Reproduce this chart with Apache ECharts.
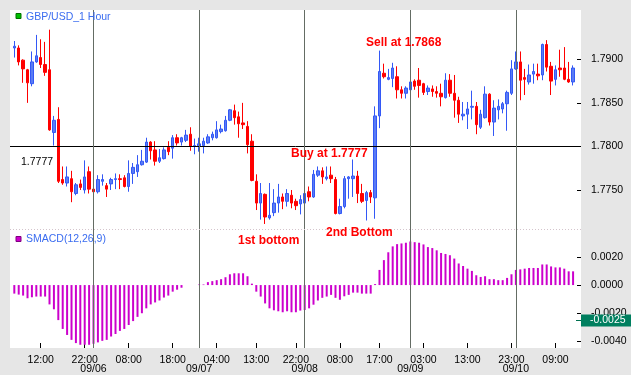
<!DOCTYPE html>
<html><head><meta charset="utf-8">
<script src="https://cdn.jsdelivr.net/npm/echarts@6/dist/echarts.min.js"></script>
<style>html,body{margin:0;padding:0;background:#e6e6e6}#c{width:631px;height:375px}</style>
</head><body><div id="c"></div>
<script>
// GBP/USD 1-hour candles, 09/05 06:00 -> 09/10 13:00 (index = hours since first bar)
const openP = [1.7913,1.7913,1.7899,1.7888,1.7872,1.7897,1.7902,1.7894,1.7888,1.7816,
1.7831,1.7762,1.7758,1.7763,1.7746,1.7757,1.7750,1.7771,1.7751,1.7748,
1.7760,1.7755,1.7757,1.7762,1.7763,1.7764,1.7754,1.7769,1.7771,1.7779,
1.7782,1.7805,1.7796,1.7783,1.7786,1.7799,1.7798,1.7810,1.7805,1.7807,
1.7814,1.7800,1.7800,1.7801,1.7804,1.7810,1.7810,1.7817,1.7818,1.7830,
1.7841,1.7834,1.7827,1.7823,1.7806,1.7760,1.7735,1.7745,1.7718,1.7724,
1.7735,1.7742,1.7737,1.7744,1.7737,1.7734,1.7735,1.7748,1.7742,1.7767,
1.7772,1.7763,1.7767,1.7762,1.7723,1.7731,1.7763,1.7763,1.7766,1.7746,
1.7738,1.7747,1.7741,1.7835,1.7884,1.7877,1.7878,1.7880,1.7865,1.7861,
1.7865,1.7875,1.7876,1.7872,1.7863,1.7866,1.7863,1.7861,1.7856,1.7876,
1.7861,1.7853,1.7835,1.7837,1.7845,1.7846,1.7822,1.7833,1.7860,1.7828,
1.7842,1.7843,1.7849,1.7861,1.7889,1.7897,1.7879,1.7874,1.7883,1.7883,
1.7882,1.7917,1.7892,1.7877,1.7890,1.7890,1.7877,1.7874];
const highP = [1.7921,1.7916,1.7900,1.7889,1.7909,1.7928,1.7923,1.7920,1.7934,1.7835,
1.7845,1.7777,1.7777,1.7772,1.7758,1.7762,1.7784,1.7777,1.7756,1.7767,
1.7768,1.7758,1.7764,1.7769,1.7768,1.7767,1.7784,1.7781,1.7790,1.7796,
1.7810,1.7806,1.7806,1.7797,1.7799,1.7806,1.7813,1.7814,1.7811,1.7819,
1.7822,1.7809,1.7810,1.7810,1.7814,1.7817,1.7829,1.7825,1.7835,1.7843,
1.7848,1.7840,1.7850,1.7829,1.7814,1.7768,1.7758,1.7746,1.7758,1.7751,
1.7757,1.7746,1.7751,1.7750,1.7740,1.7744,1.7757,1.7754,1.7773,1.7777,
1.7776,1.7777,1.7777,1.7765,1.7740,1.7766,1.7766,1.7785,1.7772,1.7757,
1.7749,1.7750,1.7846,1.7910,1.7895,1.7889,1.7896,1.7892,1.7869,1.7869,
1.7886,1.7877,1.7890,1.7873,1.7870,1.7870,1.7869,1.7872,1.7884,1.7883,
1.7882,1.7857,1.7851,1.7851,1.7864,1.7851,1.7842,1.7869,1.7861,1.7853,
1.7854,1.7851,1.7864,1.7899,1.7909,1.7909,1.7889,1.7894,1.7895,1.7895,
1.7918,1.7922,1.7897,1.7893,1.7911,1.7914,1.7897,1.7893];
const lowP = [1.7902,1.7893,1.7873,1.7850,1.7869,1.7896,1.7890,1.7881,1.7818,1.7801,
1.7758,1.7756,1.7754,1.7736,1.7744,1.7750,1.7746,1.7746,1.7742,1.7746,
1.7755,1.7742,1.7750,1.7751,1.7751,1.7753,1.7748,1.7757,1.7765,1.7778,
1.7781,1.7785,1.7778,1.7781,1.7785,1.7790,1.7786,1.7801,1.7801,1.7805,
1.7795,1.7791,1.7794,1.7792,1.7803,1.7807,1.7809,1.7815,1.7817,1.7829,
1.7825,1.7810,1.7820,1.7792,1.7760,1.7727,1.7716,1.7711,1.7716,1.7720,
1.7724,1.7728,1.7731,1.7729,1.7727,1.7722,1.7729,1.7737,1.7741,1.7765,
1.7757,1.7761,1.7758,1.7722,1.7722,1.7729,1.7740,1.7742,1.7735,1.7735,
1.7715,1.7735,1.7717,1.7821,1.7878,1.7876,1.7868,1.7855,1.7855,1.7855,
1.7855,1.7865,1.7856,1.7859,1.7859,1.7857,1.7856,1.7846,1.7855,1.7857,
1.7833,1.7827,1.7830,1.7820,1.7831,1.7814,1.7820,1.7832,1.7824,1.7812,
1.7831,1.7838,1.7818,1.7859,1.7888,1.7853,1.7859,1.7871,1.7872,1.7876,
1.7876,1.7886,1.7859,1.7870,1.7880,1.7876,1.7873,1.7870];
const closeP = [1.7915,1.7897,1.7889,1.7873,1.7897,1.7904,1.7894,1.7885,1.7819,1.7830,
1.7760,1.7758,1.7765,1.7748,1.7756,1.7753,1.7765,1.7751,1.7748,1.7762,
1.7762,1.7751,1.7762,1.7763,1.7762,1.7754,1.7769,1.7776,1.7779,1.7783,
1.7805,1.7795,1.7783,1.7787,1.7796,1.7794,1.7810,1.7804,1.7810,1.7813,
1.7800,1.7801,1.7803,1.7806,1.7811,1.7814,1.7819,1.7820,1.7830,1.7842,
1.7833,1.7826,1.7825,1.7802,1.7761,1.7735,1.7746,1.7719,1.7721,1.7735,
1.7742,1.7737,1.7746,1.7735,1.7732,1.7739,1.7746,1.7742,1.7768,1.7772,
1.7765,1.7765,1.7763,1.7723,1.7731,1.7763,1.7765,1.7766,1.7746,1.7737,
1.7747,1.7742,1.7835,1.7886,1.7880,1.7879,1.7890,1.7865,1.7861,1.7867,
1.7874,1.7869,1.7870,1.7862,1.7867,1.7863,1.7861,1.7857,1.7876,1.7861,
1.7853,1.7837,1.7837,1.7843,1.7846,1.7825,1.7837,1.7860,1.7828,1.7844,
1.7846,1.7849,1.7862,1.7889,1.7897,1.7876,1.7877,1.7882,1.7886,1.7881,
1.7917,1.7891,1.7875,1.7888,1.7888,1.7877,1.7874,1.7890];
// SMACD(12,26,9) histogram
const smacd = [-0.00061,-0.00068,-0.00075,-0.00094,-0.00087,-0.00082,-0.00082,-0.00082,-0.00138,-0.00173,
-0.00250,-0.00313,-0.00356,-0.00391,-0.00414,-0.00426,-0.00426,-0.00426,-0.00419,-0.00409,
-0.00398,-0.00391,-0.00367,-0.00349,-0.00327,-0.00313,-0.00285,-0.00257,-0.00227,-0.00201,
-0.00166,-0.00138,-0.00124,-0.00110,-0.00089,-0.00075,-0.00047,-0.00033,-0.00019,0,
0,0,0.00004,0.00004,0.00021,0.00028,0.00035,0.00042,0.00056,0.00077,
0.00084,0.00084,0.00084,0.00063,0.00010,-0.00047,-0.00082,-0.00131,-0.00166,-0.00180,
-0.00187,-0.00194,-0.00187,-0.00194,-0.00194,-0.00182,-0.00178,-0.00166,-0.00140,-0.00110,
-0.00091,-0.00082,-0.00070,-0.00091,-0.00105,-0.00080,-0.00070,-0.00054,-0.00054,-0.00061,
-0.00061,-0.00061,0.00007,0.00108,0.00178,0.00234,0.00276,0.00292,0.00297,0.00302,
0.00311,0.00306,0.00302,0.00290,0.00271,0.00264,0.00248,0.00229,0.00222,0.00213,
0.00189,0.00154,0.00136,0.00117,0.00101,0.00070,0.00058,0.00063,0.00042,0.00042,
0.00035,0.00035,0.00051,0.00077,0.00108,0.00112,0.00117,0.00122,0.00122,0.00122,
0.00147,0.00147,0.00133,0.00126,0.00126,0.00117,0.00098,0.00098];
// axis ticks
const timeTickIndex = [6,16,26,36,46,55,64,74,83,93,103,113,123];
const timeTickLabels = ['12:00','22:00','08:00','18:00','04:00','13:00','22:00','08:00','17:00','03:00','13:00','23:00','09:00'];
const dateTickIndex = [18,42,66,90,114];
const dateTickLabels = ['09/06','09/07','09/08','09/09','09/10'];
const priceTicks = [1.7750,1.7800,1.7850,1.7900];
const macdTicks = [0.0020,0.0000,-0.0020,-0.0040];
const buyLevel = 1.7777;
const boxValue = -0.0025;

const FONT = 'Liberation Sans';
const XMIN = -0.98, XMAX = 128.8;
const candles = openP.map((o,i)=>[i,o,closeP[i],lowP[i],highP[i]]);
const macdData = smacd.map((v,i)=>[i,v]);
const sepLines = dateTickIndex.map(d=>({xAxis:d}));
const sepStyle = {color:'#646c64', width:1, type:'solid'};

const chart = echarts.init(document.getElementById('c'), null, {renderer:'canvas'});
const option = {
  animation:false,
  backgroundColor:'#e6e6e6',
  textStyle:{fontFamily:FONT},
  grid:[
    {left:10, top:10, width:571, height:219, show:true, backgroundColor:'#ffffff', borderWidth:0},
    {left:10, top:229, width:571, height:121, show:true, backgroundColor:'#ffffff', borderWidth:0}
  ],
  xAxis:[
    {gridIndex:0, type:'value', min:XMIN, max:XMAX, show:false, axisLine:{onZero:false}},
    {gridIndex:1, type:'value', position:'bottom', min:XMIN, max:XMAX,
     axisLine:{show:false, onZero:false}, splitLine:{show:false},
     axisTick:{show:true, inside:true, length:5, customValues:timeTickIndex, lineStyle:{color:'#000'}},
     axisLabel:{customValues:timeTickIndex, formatter:v=>timeTickLabels[timeTickIndex.indexOf(v)],
       margin:7, fontSize:10.5, color:'#000', fontFamily:FONT}},
    {gridIndex:1, type:'value', position:'bottom', offset:0, min:XMIN, max:XMAX,
     axisLine:{show:false, onZero:false}, splitLine:{show:false},
     axisTick:{show:false},
     axisLabel:{customValues:dateTickIndex, formatter:v=>dateTickLabels[dateTickIndex.indexOf(v)],
       margin:16, fontSize:10.5, color:'#000', fontFamily:FONT}}
  ],
  yAxis:[
    {gridIndex:0, type:'value', position:'right', min:1.770524, max:1.795658, scale:true,
     splitLine:{show:false}, axisLine:{show:false, onZero:false},
     axisTick:{show:true, inside:true, length:4, customValues:priceTicks, lineStyle:{color:'#000'}},
     axisLabel:{customValues:priceTicks, formatter:v=>v.toFixed(4), margin:10, fontSize:10.5, color:'#000', fontFamily:FONT}},
    {gridIndex:1, type:'value', position:'right', min:-0.00449, max:0.0040,
     splitLine:{show:false}, axisLine:{show:false, onZero:false},
     axisTick:{show:true, inside:true, length:4, customValues:macdTicks, lineStyle:{color:'#000'}},
     axisLabel:{customValues:macdTicks, formatter:v=>v.toFixed(4), margin:10, fontSize:10.5, color:'#000', fontFamily:FONT}}
  ],
  series:[
    {type:'candlestick', xAxisIndex:0, yAxisIndex:0, data:candles, encode:{x:0, y:[1,2,3,4]},
     barWidth:3,
     itemStyle:{color:'#5a7cf4', color0:'#ff0000', borderColor:'#3358f6', borderColor0:'#ff0000', borderWidth:1},
     markLine:{silent:true, symbol:'none', animation:false, label:{show:false},
       data:[
         {yAxis:buyLevel, lineStyle:{color:'#000', width:1, type:'solid'}},
         ...sepLines.map(s=>Object.assign({lineStyle:sepStyle}, s))
       ]}},
    {type:'bar', xAxisIndex:1, yAxisIndex:1, data:macdData, barWidth:2,
     itemStyle:{color:'#cc00cc'},
     markLine:{silent:true, symbol:'none', animation:false, label:{show:false},
       data: sepLines.map(s=>Object.assign({lineStyle:sepStyle}, s))}}
  ]
};
chart.setOption(option);

const yBuy = chart.convertToPixel({yAxisIndex:0}, buyLevel);
const yBox = chart.convertToPixel({yAxisIndex:1}, boxValue);
const red = {fill:'#ff0000', font:'bold 12px "Liberation Sans"', textVerticalAlign:'middle'};
chart.setOption({
  graphic:[
    {type:'line', shape:{x1:10, y1:229.5, x2:581, y2:229.5}, style:{stroke:'#d4c4cc', lineWidth:1, lineDash:[1,2]}, z:5},
    {type:'rect', shape:{x:16, y:13.5, width:5, height:5}, style:{fill:'#00c000', stroke:'#007000', lineWidth:1}, z:10},
    {type:'text', x:26, y:17, style:{text:'GBP/USD_1 Hour', fill:'#3a6cf0', font:'10.5px "Liberation Sans"', textVerticalAlign:'middle'}, z:10},
    {type:'rect', shape:{x:16, y:236.5, width:5, height:5}, style:{fill:'#cc00cc', stroke:'#800080', lineWidth:1}, z:10},
    {type:'text', x:26, y:239.5, style:{text:'SMACD(12,26,9)', fill:'#3a6cf0', font:'10.5px "Liberation Sans"', textVerticalAlign:'middle'}, z:10},
    {type:'text', x:21, y:yBuy-4, style:{text:buyLevel.toFixed(4), fill:'#000', font:'10.5px "Liberation Sans"', textVerticalAlign:'middle'}, z:10},
    {type:'text', x:366, y:42.5, style:Object.assign({text:'Sell at 1.7868'}, red), z:10},
    {type:'text', x:291, y:153.5, style:Object.assign({text:'Buy at 1.7777'}, red), z:10},
    {type:'text', x:238, y:240.5, style:Object.assign({text:'1st bottom'}, red), z:10},
    {type:'text', x:326, y:232.5, style:Object.assign({text:'2nd Bottom'}, red), z:10},
    {type:'line', shape:{x1:576, y1:Math.round(yBox)+0.5, x2:581, y2:Math.round(yBox)+0.5}, style:{stroke:'#007050', lineWidth:1}, z:10},
    {type:'rect', shape:{x:581, y:Math.round(yBox)-5.5, width:50, height:12}, style:{fill:'#007f5f'}, z:10},
    {type:'text', x:590, y:Math.round(yBox)+0.5, style:{text:boxValue.toFixed(4), fill:'#ffffff', font:'10.5px "Liberation Sans"', textVerticalAlign:'middle'}, z:11}
  ]
});
</script></body></html>
